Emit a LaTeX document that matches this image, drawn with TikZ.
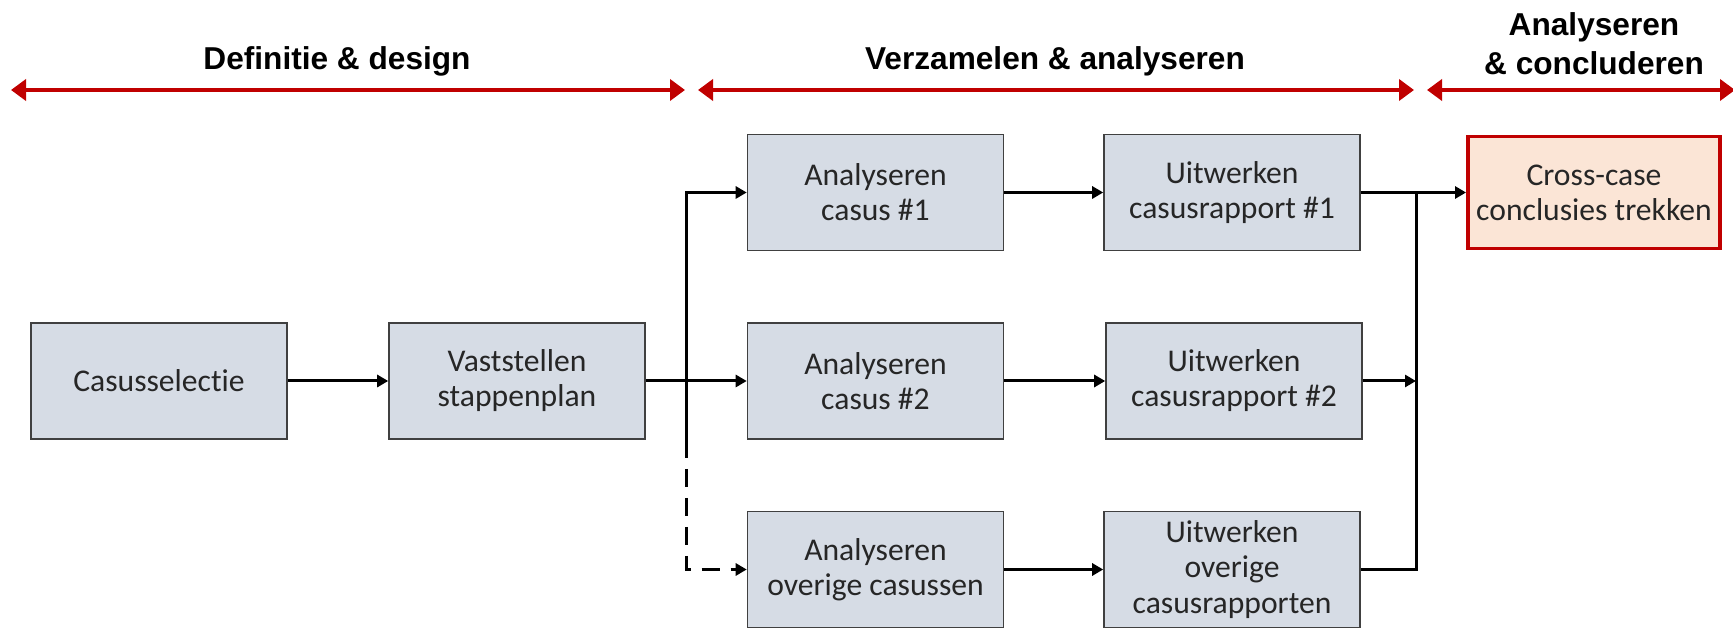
\documentclass[tikz,border=0pt]{standalone}
\usepackage{fontspec}
\setmainfont{Carlito}[Ligatures=NoCommon]
\newfontfamily\headfont{Liberation Sans}
\usepackage{tikz}
\usepackage{xcolor}
\usetikzlibrary{arrows.meta}

\definecolor{boxfill}{HTML}{D6DCE5}
\definecolor{boxline}{HTML}{404040}
\definecolor{endfill}{HTML}{FBE5D6}
\definecolor{phasered}{HTML}{C00000}

\begin{document}
\begin{tikzpicture}[
    stepbox/.style={draw=boxline, line width=0.9pt, fill=boxfill, minimum width=5.12cm,
        minimum height=2.32cm, inner sep=0pt, align=center, text=black!85,
        font=\fontsize{18}{20}\selectfont},
    endbox/.style={stepbox, draw=phasered, line width=2.2pt, fill=endfill,
        minimum width=5.04cm, minimum height=2.24cm},
    flow/.style={line width=1.7pt, -{Triangle[length=0.22cm, width=0.24cm]}},
    plain/.style={line width=1.7pt},
    phase/.style={draw=phasered, line width=2.8pt,
        {Triangle[length=0.3cm, width=0.42cm]}-{Triangle[length=0.3cm, width=0.42cm]}},
    phasetitle/.style={align=center, font=\headfont\bfseries\fontsize{18}{22}\selectfont}
  ]
    \useasboundingbox (0,0) rectangle (34.66,12.56);

    \coordinate (p0) at (0.22,10.76);
    \coordinate (p1) at (13.70,10.76);
    \coordinate (p2) at (13.96,10.76);
    \coordinate (p3) at (28.28,10.76);
    \coordinate (p4) at (28.54,10.76);
    \coordinate (p5) at (34.70,10.76);
    \draw[phase] (p0) -- (p1);
    \draw[phase] (p2) -- (p3);
    \draw[phase] (p4) -- (p5);
    \node[phasetitle] (t1) at (6.74,11.34) {Definitie \& design};
    \node[phasetitle] (t2) at (21.10,11.34) {Verzamelen \& analyseren};
    \node[phasetitle] (t3) at (31.88,11.68) {Analyseren\\\& concluderen};

    \node[stepbox] (cas) at (3.18,4.94) {Casusselectie};
    \node[stepbox] (vast) at (10.34,4.94) {Vaststellen\\stappenplan};

    \node[stepbox] (an1) at (17.51,8.71) {Analyseren\\casus \#1};
    \node[stepbox] (an2) at (17.51,4.94) {Analyseren\\casus \#2};
    \node[stepbox] (an3) at (17.51,1.17) {Analyseren\\overige casussen};

    \node[stepbox] (uit1) at (24.64,8.71) {Uitwerken\\casusrapport \#1};
    \node[stepbox] (uit2) at (24.68,4.94) {Uitwerken\\casusrapport \#2};
    \node[stepbox] (uit3) at (24.64,1.17) {Uitwerken\\overige\\casusrapporten};

    \node[endbox] (cross) at (31.88,8.71) {Cross-case\\conclusies trekken};

    \draw[flow] (cas) -- (vast);
    \draw[flow] (vast) -- (an2);
    \coordinate (split) at (13.72,3.76);
    \draw[flow] (split) |- (an1.west);
    \draw[flow, dash pattern=on 0.36cm off 0.22cm] (split) |- (an3.west);

    \draw[flow] (an1) -- (uit1);
    \draw[flow] (an2) -- (uit2);
    \draw[flow] (an3) -- (uit3);

    \coordinate (merge) at (28.32,8.71);
    \draw[flow] (uit1.east) -- (cross.west);
    \draw[plain] (uit3.east) -| (merge);
    \draw[flow] (uit2.east) -- (uit2.east -| merge);
\end{tikzpicture}
\end{document}
